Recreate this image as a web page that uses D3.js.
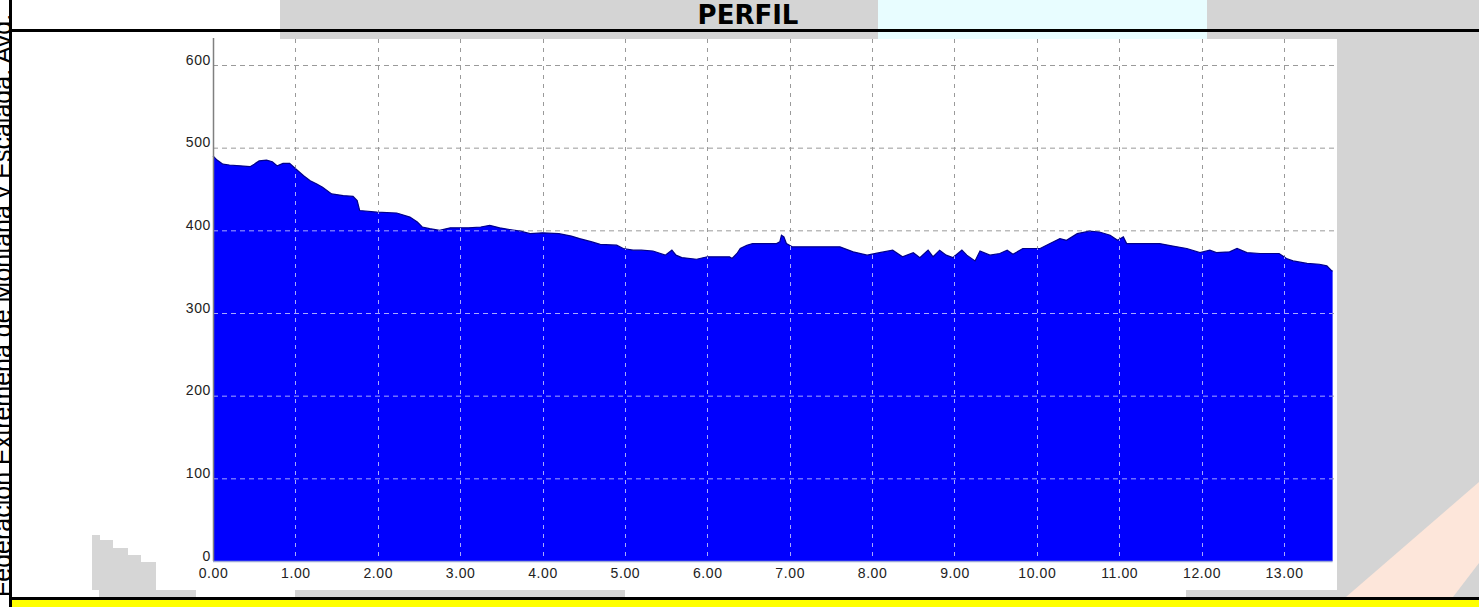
<!DOCTYPE html>
<html><head><meta charset="utf-8">
<script src="https://cdn.jsdelivr.net/npm/d3@7"></script>
<style>html,body{margin:0;padding:0;background:#fff;overflow:hidden}</style>
</head><body>
<svg id="c" width="1479" height="607"></svg>
<script>
// ---- data ----
const title = "PERFIL";
const sideText = "Federación Extremeña de Montaña y Escalada. Avd.";
const distKm = [0.00,0.05,0.12,0.20,0.33,0.45,0.50,0.56,0.65,0.72,0.78,0.85,0.93,1.02,1.10,1.18,1.26,1.33,1.44,1.58,1.70,1.75,1.78,1.99,2.23,2.39,2.48,2.54,2.63,2.75,2.88,3.10,3.25,3.36,3.48,3.60,3.73,3.85,4.00,4.20,4.35,4.45,4.60,4.70,4.90,4.98,5.10,5.20,5.34,5.49,5.57,5.62,5.69,5.87,6.00,6.27,6.30,6.36,6.40,6.48,6.55,6.84,6.88,6.90,6.93,6.96,7.03,7.61,7.77,7.94,8.09,8.25,8.37,8.50,8.58,8.68,8.74,8.82,8.90,8.98,9.09,9.15,9.25,9.31,9.43,9.55,9.64,9.71,9.83,10.04,10.16,10.28,10.36,10.49,10.64,10.76,10.89,10.98,11.05,11.09,11.25,11.49,11.65,11.82,11.98,12.10,12.18,12.34,12.43,12.55,12.71,12.94,13.03,13.11,13.28,13.43,13.52,13.58,13.59];
const elevM = [490,485,480,479,478,477,480,484,485,483,478,481,481,473,466,460,456,452,444,442,441,436,424,422,421,416,410,404,402,400,403,403,404,406,403,401,399,396,397,396,393,390,386,383,382,378,376,376,375,370,376,370,367,365,368,368,366,372,378,382,384,384,386,394,392,384,380,380,374,370,373,376,368,373,367,376,368,376,370,367,376,370,363,375,370,372,376,371,378,378,384,390,388,396,399,398,394,388,392,384,384,384,381,378,373,376,373,374,378,373,372,372,366,363,360,359,357,351,351];
const xTicks = [0,1,2,3,4,5,6,7,8,9,10,11,12,13];
const yTicks = [0,100,200,300,400,500,600];

const svg = d3.select("#c");
const W = 1479, H = 607;

// ---- page background / frame ----
svg.append("rect").attr("x",0).attr("y",0).attr("width",W).attr("height",H).attr("fill","#ffffff");
svg.append("rect").attr("x",280).attr("y",0).attr("width",598).attr("height",39).attr("fill","#d4d4d4");
svg.append("rect").attr("x",878).attr("y",0).attr("width",329).attr("height",39).attr("fill","#e8fdff");
svg.append("rect").attr("x",1207).attr("y",0).attr("width",272).attr("height",597).attr("fill","#d4d4d4");
svg.append("rect").attr("x",295).attr("y",590).attr("width",330).attr("height",7).attr("fill","#d4d4d4");
svg.append("rect").attr("x",1186).attr("y",590).attr("width",160).attr("height",7).attr("fill","#d4d4d4");
svg.append("polygon").attr("fill","#fde6da").attr("points","1346,597 1479,482 1479,563 1453,597");

// chart white image
svg.append("rect").attr("x",13).attr("y",39).attr("width",1324).attr("height",551).attr("fill","#ffffff");
svg.append("polygon").attr("fill","#d6d6d6")
  .attr("points","92,535 100,535 100,540 113,540 113,548 128,548 128,555 141,555 141,562 156,562 156,590 196,590 196,597 99,597 99,590 92,590");

// ---- scales ----
const x = d3.scaleLinear().domain([0,13]).range([213,1284]);
const y = d3.scaleLinear().domain([0,600]).range([561,65]);
const data = distKm.map((d,i)=>({d, e: elevM[i]}));

// grid under area
const gGrid = svg.append("g");
gGrid.selectAll("line.h").data(yTicks.filter(v=>v>0)).join("line")
  .attr("x1",x(0)).attr("x2",1337).attr("y1",d=>y(d)+0.5).attr("y2",d=>y(d)+0.5)
  .attr("stroke","#9a9a9a").attr("stroke-width",1).attr("stroke-dasharray","5,4");
gGrid.selectAll("line.v").data(xTicks.filter(v=>v>0)).join("line")
  .attr("x1",d=>Math.round(x(d))+0.5).attr("x2",d=>Math.round(x(d))+0.5).attr("y1",39).attr("y2",y(0))
  .attr("stroke","#9a9a9a").attr("stroke-width",1).attr("stroke-dasharray","4,5");

// area
const area = d3.area().x(d=>x(d.d)).y0(y(0)).y1(d=>y(d.e)).curve(d3.curveLinear);
svg.append("path").datum(data).attr("d",area).attr("fill","#0000ff");
const line = d3.line().x(d=>x(d.d)).y(d=>y(d.e));
svg.append("path").datum(data).attr("d",line).attr("fill","none").attr("stroke","#00008a").attr("stroke-width",1.2);

// grid over area (light)
svg.append("clipPath").attr("id","areaClip").append("path").datum(data).attr("d",area);
const gGrid2 = svg.append("g").attr("clip-path","url(#areaClip)");
gGrid2.selectAll("line.h").data(yTicks.filter(v=>v>0)).join("line")
  .attr("x1",x(0)).attr("x2",1337).attr("y1",d=>y(d)+0.5).attr("y2",d=>y(d)+0.5)
  .attr("stroke","#a8a8ff").attr("stroke-width",1).attr("stroke-dasharray","5,4");
gGrid2.selectAll("line.v").data(xTicks.filter(v=>v>0)).join("line")
  .attr("x1",d=>Math.round(x(d))+0.5).attr("x2",d=>Math.round(x(d))+0.5).attr("y1",39).attr("y2",y(0))
  .attr("stroke","#a8a8ff").attr("stroke-width",1).attr("stroke-dasharray","4,5");

// axes
const yAxis = d3.axisLeft(y).tickValues(yTicks).tickSize(0).tickPadding(2).tickFormat(d3.format("d"));
const gy = svg.append("g").attr("transform",`translate(${x(0)},0)`).call(yAxis);
gy.select(".domain").remove();
gy.selectAll("text").attr("dy","-0.05em").attr("font-family","Liberation Sans, Arial, sans-serif")
  .attr("font-size",14).attr("fill","#222").attr("letter-spacing","0.6px");
svg.append("line").attr("x1",213.5).attr("x2",213.5).attr("y1",38).attr("y2",y(0)).attr("stroke","#808080").attr("stroke-width",1.5);

const xAxis = d3.axisBottom(x).tickValues(xTicks).tickSize(0).tickPadding(7).tickFormat(d3.format(".2f"));
const gx = svg.append("g").attr("transform",`translate(0,${y(0)})`).call(xAxis);
gx.select(".domain").remove();
gx.selectAll("text").attr("dy","0.71em").attr("font-family","Liberation Sans, Arial, sans-serif")
  .attr("font-size",14).attr("fill","#222").attr("letter-spacing","0.6px");
svg.append("line").attr("x1",213).attr("x2",x(distKm[distKm.length-1])).attr("y1",y(0)+0.5).attr("y2",y(0)+0.5)
  .attr("stroke","#9aa6d8").attr("stroke-width",1.5);

// ---- title ----
svg.append("text").attr("x",748).attr("y",24).attr("text-anchor","middle")
  .attr("font-family","DejaVu Sans, Verdana, sans-serif").attr("font-weight","bold").attr("font-size",26)
  .attr("fill","#000").text(title);

// ---- left rotated text (cut by the page edge, as in the reference) ----
svg.append("clipPath").attr("id","leftClip").append("rect").attr("x",0).attr("y",0).attr("width",10).attr("height",H);
svg.append("g").attr("clip-path","url(#leftClip)")
  .append("text").attr("transform","translate(10.5,597) rotate(-90)")
  .attr("font-family","Liberation Sans, Arial, sans-serif").attr("font-size",25).attr("fill","#000")
  .text(sideText);

// ---- frame lines ----
svg.append("rect").attr("x",9).attr("y",0).attr("width",3).attr("height",600).attr("fill","#000");
svg.append("rect").attr("x",9).attr("y",29).attr("width",W-9).attr("height",3).attr("fill","#000");
svg.append("rect").attr("x",9).attr("y",597).attr("width",W-9).attr("height",3).attr("fill","#000");
svg.append("rect").attr("x",9).attr("y",600).attr("width",W-9).attr("height",7).attr("fill","#ffff00");
svg.append("rect").attr("x",9).attr("y",597).attr("width",3).attr("height",10).attr("fill","#000");
</script>
</body></html>
